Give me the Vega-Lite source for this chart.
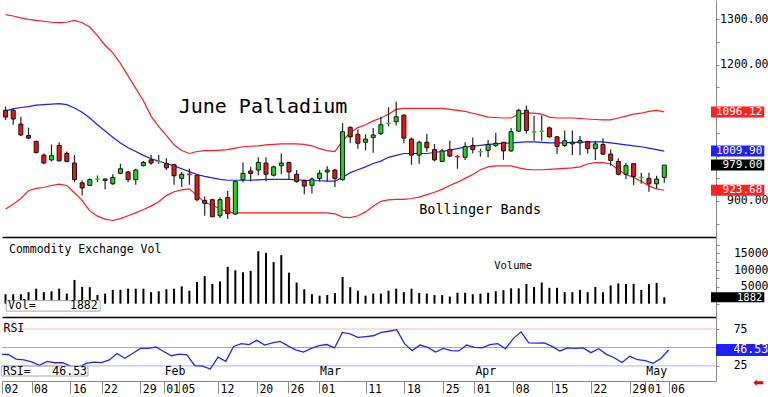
{
  "$schema": "https://vega.github.io/schema/vega-lite/v6.json",
  "padding": 0,
  "background": "white",
  "spacing": 0,
  "bounds": "flush",
  "config": {
    "view": {"stroke": null},
    "font": "DejaVu Sans Mono",
    "axis": {"grid": false, "title": null, "labelFont": "DejaVu Sans Mono", "labelColor": "black", "domainColor": "#888888", "tickColor": "#888888", "labelFlush": false, "labelOverlap": false}
  },
  "datasets": {
    "d": [
      {"i":0,"o":1099.6,"h":1108.0,"l":1078.5,"c":1084.9,"up":1310.6,"mid":1098.5,"lo":882.3,"vol":2810,"rsi":40.7},
      {"i":1,"o":1099.6,"h":1103.8,"l":1067.9,"c":1080.6,"up":1307.4,"mid":1102.7,"lo":892.8,"vol":2810,"rsi":40.5},
      {"i":2,"o":1069.4,"h":1085.5,"l":1043.3,"c":1045.4,"up":1303.2,"mid":1105.9,"lo":905.5,"vol":2810,"rsi":34.2},
      {"i":3,"o":1044.1,"h":1061.6,"l":1036.3,"c":1038.4,"up":1300.0,"mid":1108.0,"lo":922.4,"vol":3420,"rsi":33.1},
      {"i":4,"o":1031.4,"h":1032.7,"l":1004.6,"c":1006.7,"up":1297.9,"mid":1111.2,"lo":927.6,"vol":4460,"rsi":30.4},
      {"i":5,"o":1001.1,"h":1004.6,"l":982.1,"c":983.5,"up":1295.8,"mid":1112.2,"lo":929.7,"vol":3420,"rsi":25.8},
      {"i":6,"o":990.5,"h":1024.3,"l":987.1,"c":999.8,"up":1293.7,"mid":1113.3,"lo":934.0,"vol":3680,"rsi":31.1},
      {"i":7,"o":1022.2,"h":1029.3,"l":987.1,"c":988.4,"up":1293.0,"mid":1114.3,"lo":937.1,"vol":4460,"rsi":29.3},
      {"i":8,"o":1004.6,"h":1008.9,"l":985.6,"c":987.1,"up":1293.7,"mid":1112.2,"lo":934.0,"vol":2990,"rsi":29.3},
      {"i":9,"o":983.5,"h":1001.1,"l":941.3,"c":947.0,"up":1297.9,"mid":1104.8,"lo":918.2,"vol":7060,"rsi":24.7},
      {"i":10,"o":939.9,"h":944.9,"l":911.8,"c":928.7,"up":1292.6,"mid":1095.4,"lo":901.3,"vol":4980,"rsi":22.8},
      {"i":11,"o":934.4,"h":949.8,"l":932.9,"c":947.0,"up":1283.1,"mid":1082.7,"lo":878.1,"vol":4900,"rsi":28.5},
      {"i":12,"o":947.8,"h":956.1,"l":941.3,"c":949.0,"up":1264.1,"mid":1068.0,"lo":866.5,"vol":2560,"rsi":30.2},
      {"i":13,"o":948.3,"h":949.8,"l":925.1,"c":944.9,"up":1243.0,"mid":1054.2,"lo":860.1,"vol":2990,"rsi":29.6},
      {"i":14,"o":937.8,"h":958.9,"l":935.6,"c":951.9,"up":1226.2,"mid":1040.5,"lo":857.0,"vol":4120,"rsi":33.1},
      {"i":15,"o":960.9,"h":982.1,"l":958.9,"c":970.9,"up":1202.9,"mid":1027.9,"lo":861.2,"vol":4120,"rsi":41.9},
      {"i":16,"o":963.9,"h":966.0,"l":941.3,"c":947.0,"up":1175.5,"mid":1017.3,"lo":867.5,"vol":4460,"rsi":35.4},
      {"i":17,"o":947.0,"h":970.9,"l":935.6,"c":968.1,"up":1148.1,"mid":1008.9,"lo":873.9,"vol":4460,"rsi":41.9},
      {"i":18,"o":977.8,"h":987.8,"l":976.1,"c":985.0,"up":1120.7,"mid":1000.4,"lo":881.2,"vol":4460,"rsi":48.7},
      {"i":19,"o":990.5,"h":1001.1,"l":979.9,"c":983.5,"up":1086.9,"mid":993.0,"lo":888.6,"vol":3420,"rsi":48.7},
      {"i":20,"o":986.6,"h":1001.1,"l":982.1,"c":987.8,"up":1063.7,"mid":987.8,"lo":898.1,"vol":3680,"rsi":50.6},
      {"i":21,"o":982.1,"h":994.1,"l":968.2,"c":973.0,"up":1044.7,"mid":982.5,"lo":911.8,"vol":4290,"rsi":44.5},
      {"i":22,"o":980.0,"h":982.1,"l":935.6,"c":955.5,"up":1023.6,"mid":977.2,"lo":920.3,"vol":4460,"rsi":38.8},
      {"i":23,"o":949.8,"h":963.9,"l":930.8,"c":958.9,"up":1011.0,"mid":970.9,"lo":924.5,"vol":5160,"rsi":41.1},
      {"i":24,"o":959.5,"h":970.9,"l":935.6,"c":958.3,"up":1004.6,"mid":964.6,"lo":926.6,"vol":3860,"rsi":39.9},
      {"i":25,"o":956.8,"h":956.8,"l":899.2,"c":902.8,"up":1008.9,"mid":958.2,"lo":911.8,"vol":6460,"rsi":25.4},
      {"i":26,"o":901.3,"h":909.7,"l":867.5,"c":894.9,"up":1011.0,"mid":954.0,"lo":897.0,"vol":8190,"rsi":24.7},
      {"i":27,"o":902.8,"h":904.9,"l":863.9,"c":865.4,"up":1011.0,"mid":950.9,"lo":890.7,"vol":5850,"rsi":20.8},
      {"i":28,"o":867.5,"h":907.6,"l":862.6,"c":902.8,"up":1012.0,"mid":947.7,"lo":882.3,"vol":6630,"rsi":36.8},
      {"i":29,"o":907.6,"h":921.7,"l":860.5,"c":872.3,"up":1013.1,"mid":945.6,"lo":876.0,"vol":10960,"rsi":31.1},
      {"i":30,"o":871.1,"h":944.9,"l":869.6,"c":942.8,"up":1016.3,"mid":945.6,"lo":873.9,"vol":9920,"rsi":51.4},
      {"i":31,"o":947.0,"h":985.0,"l":941.3,"c":960.9,"up":1019.4,"mid":945.6,"lo":873.9,"vol":9320,"rsi":55.2},
      {"i":32,"o":966.0,"h":975.1,"l":942.8,"c":960.3,"up":1020.5,"mid":945.6,"lo":873.9,"vol":9750,"rsi":54.0},
      {"i":33,"o":968.1,"h":996.2,"l":956.8,"c":985.0,"up":1021.5,"mid":946.6,"lo":873.9,"vol":15560,"rsi":59.7},
      {"i":34,"o":983.5,"h":996.2,"l":942.8,"c":958.9,"up":1023.6,"mid":947.7,"lo":873.9,"vol":15120,"rsi":53.3},
      {"i":35,"o":956.8,"h":977.8,"l":954.0,"c":975.1,"up":1024.7,"mid":947.7,"lo":873.9,"vol":12350,"rsi":56.3},
      {"i":36,"o":977.8,"h":1004.6,"l":958.9,"c":983.5,"up":1025.7,"mid":947.7,"lo":873.9,"vol":14430,"rsi":58.2},
      {"i":37,"o":985.0,"h":985.0,"l":947.0,"c":963.9,"up":1025.7,"mid":947.7,"lo":873.9,"vol":9230,"rsi":52.2},
      {"i":38,"o":958.9,"h":968.1,"l":939.9,"c":942.8,"up":1025.7,"mid":946.6,"lo":873.9,"vol":6280,"rsi":46.8},
      {"i":39,"o":944.9,"h":947.0,"l":914.6,"c":932.9,"up":1024.7,"mid":945.6,"lo":873.9,"vol":4290,"rsi":43.7},
      {"i":40,"o":934.4,"h":951.9,"l":916.7,"c":948.3,"up":1021.5,"mid":944.5,"lo":873.9,"vol":2810,"rsi":48.7},
      {"i":41,"o":949.8,"h":968.1,"l":942.8,"c":960.9,"up":1015.2,"mid":944.5,"lo":873.9,"vol":2380,"rsi":52.5},
      {"i":42,"o":963.9,"h":976.6,"l":942.8,"c":968.1,"up":1011.0,"mid":943.5,"lo":873.9,"vol":2560,"rsi":54.0},
      {"i":43,"o":968.1,"h":970.9,"l":930.8,"c":949.8,"up":1008.9,"mid":943.5,"lo":871.7,"vol":3160,"rsi":49.4},
      {"i":44,"o":947.0,"h":1071.5,"l":944.9,"c":1052.5,"up":1032.1,"mid":951.9,"lo":864.4,"vol":7930,"rsi":70.5},
      {"i":45,"o":1062.2,"h":1064.3,"l":1027.2,"c":1041.2,"up":1051.0,"mid":962.4,"lo":863.3,"vol":4900,"rsi":68.5},
      {"i":46,"o":1046.8,"h":1057.4,"l":1015.2,"c":1027.2,"up":1061.6,"mid":968.8,"lo":867.5,"vol":3860,"rsi":63.6},
      {"i":47,"o":1029.3,"h":1046.8,"l":1011.6,"c":1036.3,"up":1067.9,"mid":975.1,"lo":876.0,"vol":2380,"rsi":64.7},
      {"i":48,"o":1039.9,"h":1061.0,"l":1006.1,"c":1045.4,"up":1076.4,"mid":982.5,"lo":888.6,"vol":2990,"rsi":65.9},
      {"i":49,"o":1048.3,"h":1085.5,"l":1045.4,"c":1067.9,"up":1082.7,"mid":987.8,"lo":899.2,"vol":2990,"rsi":70.5},
      {"i":50,"o":1070.6,"h":1106.5,"l":1064.3,"c":1071.8,"up":1091.2,"mid":996.2,"lo":902.3,"vol":3860,"rsi":72.0},
      {"i":51,"o":1074.9,"h":1118.6,"l":1066.5,"c":1085.5,"up":1101.7,"mid":1000.4,"lo":903.4,"vol":4460,"rsi":74.2},
      {"i":52,"o":1089.0,"h":1090.5,"l":1027.2,"c":1038.4,"up":1103.8,"mid":1004.6,"lo":903.4,"vol":3420,"rsi":55.2},
      {"i":53,"o":1036.3,"h":1039.9,"l":979.9,"c":1001.1,"up":1103.8,"mid":1004.6,"lo":905.5,"vol":4460,"rsi":45.7},
      {"i":54,"o":1001.1,"h":1032.7,"l":982.1,"c":1029.3,"up":1103.8,"mid":1004.6,"lo":908.6,"vol":3160,"rsi":53.3},
      {"i":55,"o":1029.3,"h":1048.3,"l":1008.2,"c":1017.3,"up":1103.8,"mid":1004.6,"lo":913.9,"vol":2990,"rsi":50.2},
      {"i":56,"o":1013.1,"h":1025.7,"l":987.1,"c":990.5,"up":1103.8,"mid":1006.8,"lo":919.2,"vol":2560,"rsi":43.7},
      {"i":57,"o":987.1,"h":1015.2,"l":987.1,"c":1010.3,"up":1103.8,"mid":1008.9,"lo":925.5,"vol":2560,"rsi":48.7},
      {"i":58,"o":1013.1,"h":1032.7,"l":996.2,"c":999.0,"up":1101.7,"mid":1012.0,"lo":934.0,"vol":2120,"rsi":45.7},
      {"i":59,"o":998.2,"h":1001.1,"l":970.9,"c":997.0,"up":1099.6,"mid":1015.2,"lo":941.4,"vol":3250,"rsi":45.3},
      {"i":60,"o":996.2,"h":1029.3,"l":990.5,"c":1020.0,"up":1097.5,"mid":1018.4,"lo":949.8,"vol":3250,"rsi":53.3},
      {"i":61,"o":1022.2,"h":1039.9,"l":1004.6,"c":1013.1,"up":1093.3,"mid":1020.5,"lo":958.2,"vol":2810,"rsi":50.2},
      {"i":62,"o":1007.9,"h":1015.2,"l":997.6,"c":1009.0,"up":1089.0,"mid":1022.6,"lo":968.8,"vol":2990,"rsi":49.4},
      {"i":63,"o":1011.6,"h":1034.2,"l":996.2,"c":1024.3,"up":1084.8,"mid":1024.7,"lo":975.1,"vol":3250,"rsi":54.0},
      {"i":64,"o":1022.2,"h":1050.4,"l":1018.8,"c":1027.2,"up":1083.8,"mid":1025.7,"lo":977.2,"vol":3680,"rsi":55.2},
      {"i":65,"o":1029.3,"h":1029.3,"l":990.5,"c":1010.3,"up":1082.7,"mid":1026.8,"lo":977.2,"vol":4030,"rsi":48.3},
      {"i":66,"o":1010.3,"h":1060.9,"l":1008.2,"c":1052.5,"up":1082.7,"mid":1027.9,"lo":977.2,"vol":4550,"rsi":62.0},
      {"i":67,"o":1053.8,"h":1103.2,"l":1052.5,"c":1099.6,"up":1091.2,"mid":1028.9,"lo":973.0,"vol":4550,"rsi":71.2},
      {"i":68,"o":1099.6,"h":1110.1,"l":1048.3,"c":1055.3,"up":1093.3,"mid":1030.0,"lo":969.8,"vol":5850,"rsi":56.3},
      {"i":69,"o":1051.7,"h":1087.6,"l":1032.7,"c":1052.8,"up":1093.3,"mid":1030.0,"lo":968.8,"vol":4980,"rsi":55.9},
      {"i":70,"o":1053.0,"h":1089.0,"l":1032.7,"c":1054.1,"up":1091.2,"mid":1028.9,"lo":968.8,"vol":6280,"rsi":56.3},
      {"i":71,"o":1061.0,"h":1064.3,"l":1039.9,"c":1041.2,"up":1084.8,"mid":1027.9,"lo":969.8,"vol":4720,"rsi":51.4},
      {"i":72,"o":1041.2,"h":1043.3,"l":1003.2,"c":1020.0,"up":1082.7,"mid":1027.9,"lo":970.9,"vol":4720,"rsi":45.3},
      {"i":73,"o":1022.2,"h":1055.3,"l":1018.8,"c":1032.7,"up":1082.7,"mid":1027.9,"lo":971.9,"vol":3420,"rsi":49.4},
      {"i":74,"o":1025.7,"h":1055.3,"l":1001.1,"c":1029.3,"up":1082.7,"mid":1028.9,"lo":973.0,"vol":3420,"rsi":48.7},
      {"i":75,"o":1027.9,"h":1043.3,"l":1001.1,"c":1032.7,"up":1081.7,"mid":1028.9,"lo":975.1,"vol":4120,"rsi":49.4},
      {"i":76,"o":1030.6,"h":1032.7,"l":1004.6,"c":1015.2,"up":1080.6,"mid":1030.0,"lo":981.4,"vol":3420,"rsi":43.0},
      {"i":77,"o":1015.2,"h":1032.7,"l":990.5,"c":1025.7,"up":1079.5,"mid":1030.0,"lo":984.6,"vol":4980,"rsi":48.3},
      {"i":78,"o":1024.3,"h":1038.4,"l":1001.1,"c":1003.2,"up":1078.5,"mid":1030.0,"lo":984.6,"vol":3420,"rsi":40.7},
      {"i":79,"o":1003.2,"h":1013.1,"l":977.8,"c":989.2,"up":1078.5,"mid":1027.9,"lo":981.4,"vol":5420,"rsi":36.1},
      {"i":80,"o":987.1,"h":994.1,"l":956.8,"c":958.9,"up":1082.7,"mid":1025.7,"lo":968.8,"vol":6020,"rsi":29.6},
      {"i":81,"o":958.9,"h":983.5,"l":948.3,"c":977.8,"up":1086.9,"mid":1023.6,"lo":958.2,"vol":5850,"rsi":38.0},
      {"i":82,"o":982.1,"h":982.1,"l":934.4,"c":954.0,"up":1091.2,"mid":1021.5,"lo":951.9,"vol":5850,"rsi":33.4},
      {"i":83,"o":951.4,"h":962.4,"l":937.8,"c":952.6,"up":1093.3,"mid":1019.4,"lo":943.5,"vol":4120,"rsi":32.3},
      {"i":84,"o":949.8,"h":962.4,"l":920.3,"c":937.8,"up":1097.5,"mid":1016.3,"lo":932.9,"vol":5850,"rsi":28.5},
      {"i":85,"o":937.8,"h":955.5,"l":927.2,"c":948.3,"up":1099.6,"mid":1013.1,"lo":926.6,"vol":6200,"rsi":35.0},
      {"i":86,"o":951.9,"h":979.0,"l":939.9,"c":979.0,"up":1096.12,"mid":1009.9,"lo":923.68,"vol":1882,"rsi":46.53}
    ]
  },
  "vconcat": [
    {
      "width": 714,
      "height": 237,
      "layer": [
        {
          "data": {"name": "d"},
          "mark": {"type": "line", "color": "#ff1a1a", "strokeWidth": 1.2, "clip": true},
          "encoding": {
            "x": {"field": "i", "type": "quantitative", "scale": {"domain": [0.19, 92.1], "nice": false, "zero": false},
                  "axis": {"ticks": false, "labels": false, "domain": true, "domainColor": "black", "domainWidth": 1.5}},
            "y": {"field": "up", "type": "quantitative", "scale": {"domain": [831.65, 1331.65], "nice": false, "zero": false},
                  "axis": {"orient": "right", "values": [850, 900, 950, 1000, 1050, 1100, 1150, 1200, 1250, 1300], "tickCount": 100,
                           "labelExpr": "(datum.value == 900 || datum.value == 1200 || datum.value == 1300) ? format(datum.value, '.2f') : ''",
                           "labelOverlap": false, "labelBound": false,
                           "tickSize": 3, "labelAlign": "right", "labelPadding": 49, "labelFontSize": 11.5}}
          }
        },
        {
          "data": {"name": "d"},
          "mark": {"type": "line", "color": "#ff1a1a", "strokeWidth": 1.2, "clip": true},
          "encoding": {"x": {"field": "i", "type": "quantitative"}, "y": {"field": "lo", "type": "quantitative"}}
        },
        {
          "data": {"name": "d"},
          "mark": {"type": "line", "color": "#1a1aff", "strokeWidth": 1.2, "clip": true},
          "encoding": {"x": {"field": "i", "type": "quantitative"}, "y": {"field": "mid", "type": "quantitative"}}
        },
        {
          "data": {"name": "d"},
          "mark": {"type": "rule", "color": "#222222", "strokeWidth": 1.2, "clip": true},
          "encoding": {"x": {"field": "i", "type": "quantitative"}, "y": {"field": "l", "type": "quantitative"}, "y2": {"field": "h"}}
        },
        {
          "data": {"name": "d"},
          "mark": {"type": "bar", "strokeWidth": 1, "clip": true},
          "encoding": {
            "x": {"field": "i", "type": "quantitative"},
            "y": {"field": "o", "type": "quantitative"},
            "y2": {"field": "c"},
            "size": {"value": 4},
            "fill": {"condition": {"test": "datum.c >= datum.o", "value": "#11dd11"}, "value": "#ee1111"},
            "stroke": {"condition": [
              {"test": "abs(datum.c - datum.o) < 2 && datum.c >= datum.o", "value": "#11dd11"},
              {"test": "abs(datum.c - datum.o) < 2", "value": "#ee1111"}
            ], "value": "#111111"}
          }
        },
        {
          "data": {"values": [{"t": "June Palladium"}]},
          "mark": {"type": "text", "align": "left", "baseline": "alphabetic", "fontSize": 20, "font": "DejaVu Sans Mono", "color": "black"},
          "encoding": {"x": {"datum": 22.6, "type": "quantitative"}, "y": {"datum": 1093.2, "type": "quantitative"}, "text": {"field": "t"}}
        },
        {
          "data": {"values": [{"t": "Bollinger Bands"}]},
          "mark": {"type": "text", "align": "left", "baseline": "alphabetic", "fontSize": 13.5, "font": "DejaVu Sans Mono", "color": "black"},
          "encoding": {"x": {"datum": 54.0, "type": "quantitative"}, "y": {"datum": 870.7, "type": "quantitative"}, "text": {"field": "t"}}
        },
        {
          "data": {"name": "d"},
          "transform": [{"filter": "datum.i == 86"}, {"fold": ["up", "mid", "c", "lo"]}],
          "mark": {"type": "bar", "orient": "horizontal"},
          "encoding": {
            "x": {"datum": 92.1, "type": "quantitative"},
            "x2": {"datum": 99.06},
            "y": {"field": "value", "type": "quantitative"},
            "size": {"value": 11},
            "fill": {"field": "key", "type": "nominal", "scale": {"domain": ["up", "mid", "c", "lo"], "range": ["#ff2020", "#2020ff", "#000000", "#ff2020"]}, "legend": null}
          }
        },
        {
          "data": {"name": "d"},
          "transform": [{"filter": "datum.i == 86"}, {"fold": ["up", "mid", "c", "lo"]}],
          "mark": {"type": "text", "align": "right", "baseline": "middle", "dx": -2, "fontSize": 11, "font": "DejaVu Sans Mono", "color": "white"},
          "encoding": {
            "x": {"datum": 99.06, "type": "quantitative"},
            "y": {"field": "value", "type": "quantitative"},
            "text": {"field": "value", "type": "quantitative", "format": ".2f"}
          }
        }
      ]
    },
    {
      "width": 714,
      "height": 80,
      "layer": [
        {
          "data": {"name": "d"},
          "mark": {"type": "bar", "color": "black", "clip": true},
          "encoding": {
            "x": {"field": "i", "type": "quantitative", "scale": {"domain": [0.19, 92.1], "nice": false, "zero": false},
                  "axis": {"ticks": false, "labels": false, "domain": true, "domainColor": "black", "domainWidth": 1.5}},
            "y": {"field": "vol", "type": "quantitative", "scale": {"domain": [-2470, 18330], "nice": false, "zero": false},
                  "axis": {"orient": "right", "values": [0, 2500, 5000, 7500, 10000, 12500, 15000, 17500], "tickCount": 100,
                           "labelExpr": "(datum.value == 5000 || datum.value == 10000 || datum.value == 15000) ? format(datum.value, 'd') : ''",
                           "labelOverlap": false, "labelBound": false,
                           "tickSize": 3, "labelAlign": "right", "labelPadding": 49, "labelFontSize": 11.5}},
            "y2": {"datum": 0},
            "size": {"value": 2}
          }
        },
        {
          "data": {"values": [{"t": "Commodity Exchange Vol"}]},
          "mark": {"type": "text", "align": "left", "baseline": "alphabetic", "fontSize": 11.5, "font": "DejaVu Sans Mono", "color": "black"},
          "encoding": {"x": {"datum": 0.45, "type": "quantitative"}, "y": {"datum": 15210, "type": "quantitative"}, "text": {"field": "t"}}
        },
        {
          "data": {"values": [{"t": "Volume"}]},
          "mark": {"type": "text", "align": "left", "baseline": "alphabetic", "fontSize": 10.5, "font": "DejaVu Sans Mono", "color": "black"},
          "encoding": {"x": {"datum": 63.8, "type": "quantitative"}, "y": {"datum": 10270, "type": "quantitative"}, "text": {"field": "t"}}
        },
        {
          "data": {"values": [{}]},
          "mark": {"type": "rect", "fill": "white", "stroke": "#aaaaaa", "strokeWidth": 1},
          "encoding": {"x": {"datum": 0.1, "type": "quantitative"}, "x2": {"datum": 12.35}, "y": {"datum": 910, "type": "quantitative"}, "y2": {"datum": -2210}}
        },
        {
          "data": {"values": [{"t": "Vol="}]},
          "mark": {"type": "text", "align": "left", "baseline": "alphabetic", "fontSize": 11.5, "font": "DejaVu Sans Mono", "color": "black"},
          "encoding": {"x": {"datum": 0.32, "type": "quantitative"}, "y": {"datum": -1690, "type": "quantitative"}, "text": {"field": "t"}}
        },
        {
          "data": {"name": "d"},
          "transform": [{"filter": "datum.i == 86"}],
          "mark": {"type": "text", "align": "right", "baseline": "alphabetic", "fontSize": 11.5, "font": "DejaVu Sans Mono", "color": "black"},
          "encoding": {"x": {"datum": 12.03, "type": "quantitative"}, "y": {"datum": -1690, "type": "quantitative"}, "text": {"field": "vol", "type": "quantitative", "format": "d"}}
        },
        {
          "data": {"name": "d"},
          "transform": [{"filter": "datum.i == 86"}],
          "mark": {"type": "bar", "orient": "horizontal", "color": "black"},
          "encoding": {"x": {"datum": 92.1, "type": "quantitative"}, "x2": {"datum": 99.06}, "y": {"field": "vol", "type": "quantitative"}, "size": {"value": 10}}
        },
        {
          "data": {"name": "d"},
          "transform": [{"filter": "datum.i == 86"}],
          "mark": {"type": "text", "align": "right", "baseline": "middle", "dx": -2, "dy": 1, "fontSize": 10.5, "font": "DejaVu Sans Mono", "color": "white"},
          "encoding": {"x": {"datum": 99.06, "type": "quantitative"}, "y": {"field": "vol", "type": "quantitative"}, "text": {"field": "vol", "type": "quantitative", "format": "d"}}
        }
      ]
    },
    {
      "width": 714,
      "height": 64,
      "layer": [
        {
          "data": {"values": [{}]},
          "mark": {"type": "rule", "color": "#ffb0b0", "strokeWidth": 1},
          "encoding": {
            "y": {"datum": 75, "type": "quantitative", "scale": {"domain": [11.33, 84.55], "nice": false, "zero": false},
                  "axis": {"orient": "right", "values": [25, 50, 75], "tickCount": 100, "tickSize": 3,
                           "labelExpr": "datum.value == 50 ? '' : datum.label",
                           "labelAlign": "right", "labelPadding": 28, "labelFontSize": 11.5, "labelOverlap": false}}
          }
        },
        {
          "data": {"values": [{}]},
          "mark": {"type": "rule", "color": "#a8a8a8", "strokeWidth": 1},
          "encoding": {"y": {"datum": 50, "type": "quantitative"}}
        },
        {
          "data": {"values": [{}]},
          "mark": {"type": "rule", "color": "#b0b0ff", "strokeWidth": 1},
          "encoding": {"y": {"datum": 25, "type": "quantitative"}}
        },
        {
          "data": {"name": "d"},
          "mark": {"type": "line", "color": "#2222ff", "strokeWidth": 1.3, "clip": true},
          "encoding": {
            "x": {"field": "i", "type": "quantitative", "scale": {"domain": [0.19, 92.1], "nice": false, "zero": false},
                  "axis": {"values": [0.2, 4, 9, 13, 18, 21, 23, 28, 33, 37, 41, 47, 52, 57, 61, 66, 71, 76, 81, 83, 86], "tickCount": 100,
                           "labelExpr": "['02','08','16','22','29','01','05','12','20','26','01','11','18','25','01','08','15','22','29','01','06'][indexof([0.2,4,9,13,18,21,23,28,33,37,41,47,52,57,61,66,71,76,81,83,86], datum.value)]",
                           "labelOverlap": false, "labelBound": false,
                           "tickSize": 12, "labelPadding": -10, "labelAlign": "left", "labelOffset": 2, "labelBaseline": "top",
                           "labelFontSize": 11.5, "domainColor": "#888888", "tickColor": "#888888"}},
            "y": {"field": "rsi", "type": "quantitative"}
          }
        },
        {
          "data": {"values": [{"t": "RSI"}]},
          "mark": {"type": "text", "align": "left", "baseline": "alphabetic", "fontSize": 11.5, "font": "DejaVu Sans Mono", "color": "black"},
          "encoding": {"x": {"datum": 0.38, "type": "quantitative"}, "y": {"datum": 70.5, "type": "quantitative"}, "text": {"field": "t"}}
        },
        {
          "data": {"values": [{}]},
          "mark": {"type": "rect", "fill": "white", "stroke": "#aaaaaa", "strokeWidth": 1},
          "encoding": {"x": {"datum": 0.1, "type": "quantitative"}, "x2": {"datum": 11.26}, "y": {"datum": 24.7, "type": "quantitative"}, "y2": {"datum": 11.33}}
        },
        {
          "data": {"values": [{"t": "RSI="}]},
          "mark": {"type": "text", "align": "left", "baseline": "alphabetic", "fontSize": 11.5, "font": "DejaVu Sans Mono", "color": "black"},
          "encoding": {"x": {"datum": 0.32, "type": "quantitative"}, "y": {"datum": 13.0, "type": "quantitative"}, "text": {"field": "t"}}
        },
        {
          "data": {"name": "d"},
          "transform": [{"filter": "datum.i == 86"}],
          "mark": {"type": "text", "align": "right", "baseline": "alphabetic", "fontSize": 11.5, "font": "DejaVu Sans Mono", "color": "black"},
          "encoding": {"x": {"datum": 11.13, "type": "quantitative"}, "y": {"datum": 13.0, "type": "quantitative"}, "text": {"field": "rsi", "type": "quantitative", "format": ".2f"}}
        },
        {
          "data": {"values": [{"m": "Feb", "at": 21}, {"m": "Mar", "at": 41}, {"m": "Apr", "at": 61}, {"m": "May", "at": 83}]},
          "mark": {"type": "text", "align": "left", "baseline": "alphabetic", "dx": 1, "fontSize": 11.5, "font": "DejaVu Sans Mono", "color": "black"},
          "encoding": {"x": {"field": "at", "type": "quantitative"}, "y": {"datum": 12.5, "type": "quantitative"}, "text": {"field": "m"}}
        },
        {
          "data": {"name": "d"},
          "transform": [{"filter": "datum.i == 86"}],
          "mark": {"type": "bar", "orient": "horizontal", "color": "#2020ff"},
          "encoding": {"x": {"datum": 92.1, "type": "quantitative"}, "x2": {"datum": 99.06}, "y": {"field": "rsi", "type": "quantitative"}, "size": {"value": 12}}
        },
        {
          "data": {"name": "d"},
          "transform": [{"filter": "datum.i == 86"}],
          "mark": {"type": "text", "align": "right", "baseline": "middle", "dx": -2, "fontSize": 11.5, "font": "DejaVu Sans Mono", "color": "white"},
          "encoding": {"x": {"datum": 99.06, "type": "quantitative"}, "y": {"field": "rsi", "type": "quantitative"}, "text": {"field": "rsi", "type": "quantitative", "format": ".2f"}}
        },
        {
          "data": {"values": [{"t": "⬅"}]},
          "mark": {"type": "text", "align": "center", "baseline": "middle", "fontSize": 13, "font": "DejaVu Sans", "color": "#ee0000"},
          "encoding": {"x": {"datum": 97.6, "type": "quantitative"}, "y": {"datum": 2.2, "type": "quantitative"}, "text": {"field": "t"}}
        }
      ]
    }
  ]
}
